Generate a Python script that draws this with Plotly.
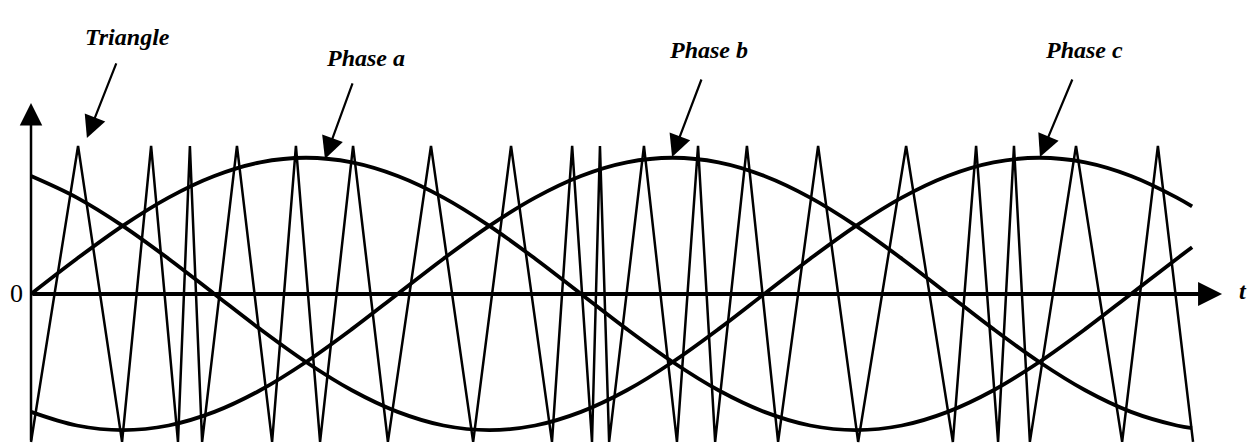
import plotly.graph_objects as go

# electrical angle in degrees
carrier_t = [0, 15.4, 29.8, 39.3, 48.1, 52.0, 56.0, 67.4, 78.9, 86.7,
             94.6, 105.4, 116.8, 130.9, 144.7, 157.1, 170.5, 177.1, 183.6,
             186.2, 189.2, 200.6, 211.4, 218.3, 223.9, 234.3, 244.5, 257.6,
             270.7, 286.4, 301.7, 309.3, 316.5, 321.7, 326.9, 342.0, 357.1,
             368.8, 380.3]
carrier_v = [-1, 1, -1, 1, -1, 1, -1, 1, -1, 1, -1, 1, -1, 1, -1, 1, -1, 1,
             -1, 1, -1, 1, -1, 1, -1, 1, -1, 1, -1, 1, -1, 1, -1, 1, -1, 1,
             -1, 1, -1]

theta = [0, 15, 30, 45, 60, 75, 90, 105, 120, 135, 150, 165, 180, 195, 210,
         225, 240, 255, 270, 285, 300, 315, 330, 345, 360, 375, 380]
phase_a = [0, 0.238, 0.46, 0.651, 0.797, 0.889, 0.92, 0.889, 0.797, 0.651,
           0.46, 0.238, 0, -0.238, -0.46, -0.651, -0.797, -0.889, -0.92,
           -0.889, -0.797, -0.651, -0.46, -0.238, 0, 0.238, 0.315]
phase_b = [-0.797, -0.889, -0.92, -0.889, -0.797, -0.651, -0.46, -0.238, 0,
           0.238, 0.46, 0.651, 0.797, 0.889, 0.92, 0.889, 0.797, 0.651, 0.46,
           0.238, 0, -0.238, -0.46, -0.651, -0.797, -0.889, -0.906]
phase_c = [0.797, 0.651, 0.46, 0.238, 0, -0.238, -0.46, -0.651, -0.797,
           -0.889, -0.92, -0.889, -0.797, -0.651, -0.46, -0.238, 0, 0.238,
           0.46, 0.651, 0.797, 0.889, 0.92, 0.889, 0.797, 0.651, 0.591]

LABEL_FONT = dict(family="Liberation Serif", size=24, color="black")

fig = go.Figure()
fig.add_trace(go.Scatter(x=carrier_t, y=carrier_v, mode="lines",
                         line=dict(color="black", width=2.5)))
for ph in (phase_a, phase_b, phase_c):
    fig.add_trace(go.Scatter(x=theta, y=ph, mode="lines",
                             line=dict(color="black", width=3.8,
                                       shape="spline")))

# axes with arrow heads
fig.add_annotation(x=389.8, y=0, ax=0, ay=0, xref="x", yref="y",
                   axref="x", ayref="y", text="", showarrow=True,
                   arrowhead=2, arrowsize=1.2, arrowwidth=4,
                   arrowcolor="black")
fig.add_annotation(x=0, y=1.29, ax=0, ay=-1.0, xref="x", yref="y",
                   axref="x", ayref="y", text="", showarrow=True,
                   arrowhead=2, arrowsize=1.8, arrowwidth=2.5,
                   arrowcolor="black")
fig.add_annotation(x=-4.6, y=0, text="0", showarrow=False,
                   font=dict(family="Liberation Serif", size=26,
                             color="black"))
fig.add_annotation(x=394.7, y=0.02, text="<i><b>t</b></i>", showarrow=False,
                   xanchor="left", font=LABEL_FONT)

# labels with pointer arrows
labels = [
    ("Triangle", 31.7, 1.736, 18.3, 1.054, 28.1, 1.568),
    ("Phase a", 109.6, 1.595, 96.2, 0.912, 105.4, 1.432),
    ("Phase b", 221.6, 1.649, 209.8, 0.926, 219.6, 1.459),
    ("Phase c", 344.6, 1.649, 330.2, 0.926, 341.0, 1.459),
]
for txt, tx, ty, hx, hy, sx, sy in labels:
    fig.add_annotation(x=tx, y=ty, text=f"<b><i>{txt}</i></b>",
                       showarrow=False, font=LABEL_FONT)
    fig.add_annotation(x=hx, y=hy, ax=sx, ay=sy, xref="x", yref="y",
                       axref="x", ayref="y", text="", showarrow=True,
                       arrowhead=2, arrowsize=2, arrowwidth=2.2,
                       arrowcolor="black")

fig.update_layout(
    width=1247, height=448,
    margin=dict(l=0, r=0, t=0, b=0),
    plot_bgcolor="white", paper_bgcolor="white",
    showlegend=False, hovermode=False,
    xaxis=dict(range=[-10.15, 397.96], visible=False, fixedrange=True),
    yaxis=dict(range=[-1.041, 1.986], visible=False, fixedrange=True),
)

# figure fills the window exactly, so drop the default page margin
fig.write_html("out.html", config={"displayModeBar": False},
               post_script="document.body.style.margin='0';"
                           "document.body.style.overflow='hidden';")
